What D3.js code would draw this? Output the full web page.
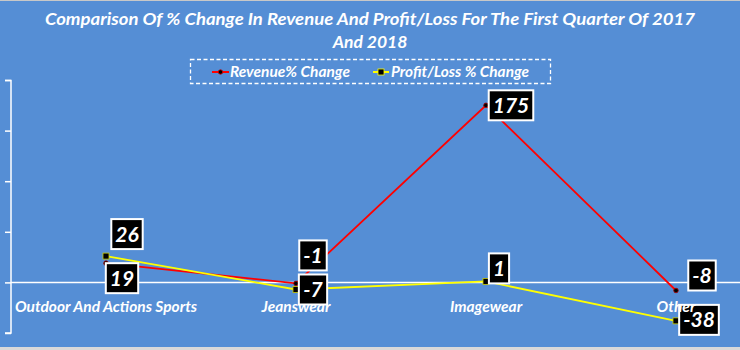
<!DOCTYPE html>
<html><head><meta charset="utf-8">
<script src="https://cdn.jsdelivr.net/npm/d3@7"></script>
<style>html,body{margin:0;padding:0;background:#fff}svg{display:block}</style>
</head><body>
<script>
const categories = ["Outdoor And Actions Sports", "Jeanswear", "Imagewear", "Other"];
const revenueChange = [19, -1, 175, -8];
const profitChange = [26, -7, 1, -38];
const yTicks = [-50, 0, 50, 100, 150, 200];
const seriesNames = ["Revenue% Change", "Profit/Loss % Change"];
const titleLines = ["Comparison Of % Change In Revenue And Profit/Loss For The First Quarter Of 2017", "And 2018"];
// manual label placements (pixel offsets from each point), as in the reference
const revLabelOffset = [[16, 15], [17, -28], [25, 0], [26, -15]];
const proLabelOffset = [[21, -22], [17, 0], [13, -13], [23, -1]];

const W = 740, H = 350;
const FONT = "Lato, 'Open Sans', sans-serif";
const svg = d3.select("body").append("svg").attr("width", W).attr("height", H);
svg.append("rect").attr("width", W).attr("height", H).attr("fill", "#558ED5");
svg.append("rect").attr("x", 0).attr("y", 347).attr("width", W).attr("height", 3).attr("fill", "#d9d9d9");
svg.append("rect").attr("x", 0).attr("y", 0).attr("width", W).attr("height", 1).attr("fill", "#c8c8c8");

const x = d3.scaleBand().domain(categories).range([11, 771]).padding(0);
const cx = c => x(c) + x.bandwidth() / 2;
const y = d3.scaleLinear().domain([-50, 200]).range([333, 80]);

// title
svg.append("g").selectAll("text").data(titleLines).join("text")
  .attr("x", 370).attr("y", (d, i) => 25 + i * 23)
  .attr("text-anchor", "middle")
  .attr("fill", "#fff").attr("font-family", FONT).attr("font-weight", 700).attr("font-style", "italic")
  .attr("font-size", 17.5)
  .attr("textLength", (d, i) => i === 0 ? 650 : null)
  .attr("lengthAdjust", "spacingAndGlyphs")
  .text(d => d);

// legend
const lg = svg.append("g");
lg.append("rect").attr("x", 190.5).attr("y", 59.5).attr("width", 360).attr("height", 24)
  .attr("fill", "none").attr("stroke", "#fff").attr("stroke-width", 1.3).attr("stroke-dasharray", "4,2.5");
lg.append("line").attr("x1", 212).attr("x2", 229).attr("y1", 72).attr("y2", 72).attr("stroke", "#f00").attr("stroke-width", 2);
lg.append("circle").attr("cx", 220.5).attr("cy", 72).attr("r", 2.2).attr("fill", "#000").attr("stroke", "#c00").attr("stroke-width", 0.8);
lg.append("line").attr("x1", 373).attr("x2", 389).attr("y1", 72).attr("y2", 72).attr("stroke", "#ff0").attr("stroke-width", 2);
lg.append("rect").attr("x", 378).attr("y", 69).attr("width", 6).attr("height", 6).attr("fill", "#000").attr("stroke", "#ff0").attr("stroke-width", 0.8);
lg.selectAll("text.lt").data(seriesNames).join("text").attr("class", "lt")
  .attr("x", (d, i) => i === 0 ? 230 : 391).attr("y", 77)
  .attr("fill", "#fff").attr("font-family", FONT).attr("font-weight", 700).attr("font-style", "italic")
  .attr("font-size", 14.5)
  .attr("textLength", (d, i) => i === 0 ? 120 : 138).attr("lengthAdjust", "spacingAndGlyphs")
  .text(d => d);

// y axis (no labels)
const yAxis = d3.axisLeft(y).tickValues(yTicks).tickSize(6).tickFormat("");
const ya = svg.append("g").attr("transform", "translate(11,0)").call(yAxis);
ya.select(".domain").attr("stroke", "#fff").attr("stroke-width", 1.5).attr("d", "M-6,80.5H0V333H-6");
ya.selectAll(".tick line").attr("stroke", "#fff").attr("stroke-width", 1.5);

// zero line
svg.append("line").attr("x1", 11).attr("x2", W).attr("y1", y(0)).attr("y2", y(0))
  .attr("stroke", "#fff").attr("stroke-width", 1.5);

const line = d3.line().x((d, i) => cx(categories[i])).y(d => y(d));
svg.append("path").datum(revenueChange).attr("d", line).attr("fill", "none").attr("stroke", "#f00").attr("stroke-width", 1.8);
svg.append("path").datum(profitChange).attr("d", line).attr("fill", "none").attr("stroke", "#ff0").attr("stroke-width", 1.8);

svg.append("g").selectAll("circle").data(revenueChange).join("circle")
  .attr("cx", (d, i) => cx(categories[i])).attr("cy", d => y(d)).attr("r", 2.3)
  .attr("fill", "#000").attr("stroke", "#a00").attr("stroke-width", 0.8);
svg.append("g").selectAll("rect").data(profitChange).join("rect")
  .attr("x", (d, i) => cx(categories[i]) - 3).attr("y", d => y(d) - 3).attr("width", 6).attr("height", 6)
  .attr("fill", "#000").attr("stroke", "#cc0").attr("stroke-width", 0.8);

// data labels
function labels(vals, offs) {
  const g = svg.append("g");
  vals.forEach((v, i) => {
    const px = cx(categories[i]) + offs[i][0], py = y(v) + offs[i][1];
    const t = g.append("text").attr("x", px).attr("y", py + 7.5)
      .attr("text-anchor", "middle").attr("fill", "#fff")
      .attr("font-family", FONT).attr("font-weight", 700).attr("font-style", "italic").attr("font-size", 21)
      .text(String(v));
    const bb = t.node().getBBox();
    g.insert("rect", () => t.node())
      .attr("x", px - bb.width / 2 - 4).attr("y", py - 15).attr("width", bb.width + 8).attr("height", 30)
      .attr("fill", "#000").attr("stroke", "#fff").attr("stroke-width", 2);
  });
}
labels(revenueChange, revLabelOffset);
labels(profitChange, proLabelOffset);

// category labels (drawn on top, as in the reference)
svg.append("g").selectAll("text").data(categories).join("text")
  .attr("x", d => cx(d)).attr("y", y(0) + 30)
  .attr("text-anchor", "middle")
  .attr("fill", "#fff").attr("font-family", FONT).attr("font-weight", 700).attr("font-style", "italic")
  .attr("font-size", 15.5)
  .text(d => d);
</script>
</body></html>
